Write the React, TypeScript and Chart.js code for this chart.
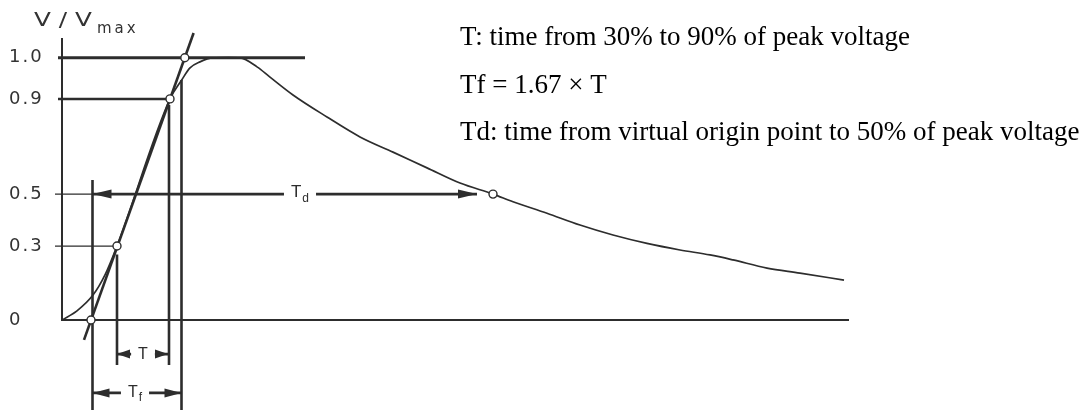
import React, { useEffect, useRef } from 'react';
import { Chart, registerables } from 'chart.js';

Chart.register(...registerables);

// ---- data (x in arbitrary time units, y as drawn height relative to the 1.0 level; the sketch is not to scale) ----
const levelLabels = ['0', '0.3', '0.5', '0.9', '1.0'];
const levelHeights = [0, 0.282, 0.48, 0.843, 1.0];

const waveX = [0, 1.5, 3.1, 4.3, 5.5, 10.8, 11.97, 12.8, 13.8, 15.1, 16.6, 17.8, 19.5, 20.8, 23.1, 26.5, 29.8, 33.1, 36.5, 39.8, 43.1, 45.1, 48.5, 51.8, 55.1, 58.5, 61.8, 64.8, 67.1, 70.5, 73.8, 78.2];
const waveY = [0, 0.035, 0.095, 0.172, 0.282, 0.843, 0.915, 0.961, 0.984, 0.999, 1.0, 0.999, 0.965, 0.926, 0.858, 0.774, 0.698, 0.64, 0.58, 0.522, 0.48, 0.451, 0.407, 0.362, 0.324, 0.292, 0.267, 0.248, 0.229, 0.198, 0.179, 0.152];

const tangentX = [2.2, 13.16];
const tangentY = [-0.076, 1.094];

const markerX = [2.9, 5.5, 10.8, 12.28, 43.1];
const markerY = [0, 0.282, 0.843, 1.0, 0.48];

const heavyGuideY = [1.0, 0.843];
const heavyGuideFrom = [-0.4, -0.4];
const heavyGuideTo = [24.3, 10.8];

const lightGuideY = [0.48, 0.282];
const lightGuideFrom = [-0.7, -0.7];
const lightGuideTo = [3.05, 5.5];

const vertX = [3.05, 5.5, 10.7, 11.95];
const vertTop = [0.534, 0.25, 0.82, 0.915];
const vertBottom = [-0.343, -0.172, -0.172, -0.343];

const dimLabels = ['T', 'T', 'T'];
const dimSubs = ['', 'f', 'd'];
const dimY = [-0.13, -0.278, 0.48];
const dimFrom = [5.5, 3.05, 3.05];
const dimTo = [10.6, 11.95, 41.5];
const dimLabelAt = [8.1, 7.3, 23.8];

const notes = [
  'T: time from 30% to 90% of peak voltage',
  'Tf = 1.67 × T',
  'Td: time from virtual origin point to 50% of peak voltage',
];

const X_MAX = 78.6;
const Y_MAX = 1.0713;

export default function App() {
  const ref = useRef<HTMLCanvasElement>(null);

  useEffect(() => {
    const canvas = ref.current;
    if (!canvas) return;
    const ink = '#2d2d2d';
    const labelInk = '#333333';

    const seg = (xs: number[], ys: number[], width: number, extra: any = {}) => ({
      data: xs.map((x, i) => ({ x, y: ys[i] })),
      borderColor: ink,
      borderWidth: width,
      pointRadius: 0,
      fill: false,
      clip: false,
      tension: 0,
      borderCapStyle: 'butt',
      ...extra,
    });

    const datasets: any[] = [];
    datasets.push({
      data: markerX.map((x, i) => ({ x, y: markerY[i] })),
      showLine: false,
      pointRadius: 4,
      pointBackgroundColor: '#ffffff',
      pointBorderColor: ink,
      pointBorderWidth: 1.4,
      clip: false,
    });
    datasets.push(seg(waveX, waveY, 1.7, { cubicInterpolationMode: 'monotone' }));
    datasets.push(seg(tangentX, tangentY, 2.6));
    heavyGuideY.forEach((y, i) => datasets.push(seg([heavyGuideFrom[i], heavyGuideTo[i]], [y, y], i === 0 ? 3 : 2.5)));
    lightGuideY.forEach((y, i) => datasets.push(seg([lightGuideFrom[i], lightGuideTo[i]], [y, y], 1.2)));
    vertX.forEach((x, i) => datasets.push(seg([x, x], [vertTop[i], vertBottom[i]], 2.6)));

    const annotate = {
      id: 'annotate',
      beforeDraw(chart: any) {
        const ctx = chart.ctx;
        ctx.save();
        ctx.fillStyle = '#ffffff';
        ctx.fillRect(0, 0, chart.width, chart.height);
        ctx.restore();
        ctx.letterSpacing = '2px';
      },
      beforeDatasetsDraw(chart: any) {
        chart.ctx.letterSpacing = '0px';
      },
      afterDatasetsDraw(chart: any) {
        const ctx = chart.ctx;
        const xs = chart.scales.x;
        const ys = chart.scales.y;
        ctx.save();
        ctx.letterSpacing = '0px';
        ctx.fillStyle = ink;
        ctx.strokeStyle = ink;
        const heads = [13, 17, 19];
        dimFrom.forEach((x0, i) => {
          const p0 = xs.getPixelForValue(x0);
          const p1 = xs.getPixelForValue(dimTo[i]);
          const py = ys.getPixelForValue(dimY[i]);
          const pc = xs.getPixelForValue(dimLabelAt[i]);
          const mainSize = i === 2 ? 17 : 16;
          ctx.font = `${mainSize}px "Liberation Sans"`;
          const wMain = ctx.measureText(dimLabels[i]).width;
          ctx.font = '12px "Liberation Sans"';
          const wSub = dimSubs[i] ? ctx.measureText(dimSubs[i]).width + 1 : 0;
          const w = wMain + wSub;
          const left = pc - w / 2;
          const right = pc + w / 2;
          ctx.lineWidth = 2.6;
          ctx.beginPath();
          ctx.moveTo(p0, py);
          ctx.lineTo(left - 7, py);
          ctx.moveTo(right + 7, py);
          ctx.lineTo(p1, py);
          ctx.stroke();
          const L = heads[i];
          const H = 4.5;
          ctx.beginPath();
          ctx.moveTo(p0, py);
          ctx.lineTo(p0 + L, py - H);
          ctx.lineTo(p0 + L, py + H);
          ctx.closePath();
          ctx.fill();
          ctx.beginPath();
          ctx.moveTo(p1, py);
          ctx.lineTo(p1 - L, py - H);
          ctx.lineTo(p1 - L, py + H);
          ctx.closePath();
          ctx.fill();
          ctx.textBaseline = 'middle';
          ctx.textAlign = 'left';
          ctx.font = `${mainSize}px "Liberation Sans"`;
          ctx.fillText(dimLabels[i], left, py - (i === 2 ? 2 : 0));
          if (dimSubs[i]) {
            ctx.font = '12px "Liberation Sans"';
            ctx.fillText(dimSubs[i], left + wMain + 1, py + 5);
          }
        });

        // axis title V / Vmax
        ctx.fillStyle = labelInk;
        ctx.textBaseline = 'alphabetic';
        ctx.textAlign = 'left';
        const ax = chart.chartArea.left;
        ctx.save();
        ctx.translate(ax - 28, 26);
        ctx.scale(1.3, 1);
        ctx.font = '19px "DejaVu Sans"';
        ctx.fillText('V / V', 0, 0);
        ctx.restore();
        ctx.font = '15px "DejaVu Sans"';
        ctx.letterSpacing = '3px';
        ctx.fillText('max', ax + 35, 33);
        ctx.letterSpacing = '0px';

        // notes
        ctx.fillStyle = '#000000';
        ctx.font = '27px "Liberation Serif"';
        const baselines = [45, 93, 140];
        notes.forEach((t, i) => ctx.fillText(t, 460, baselines[i]));
        ctx.restore();
      },
    };

    const chart = new Chart(canvas, {
      type: 'line',
      data: { datasets },
      options: {
        animation: false,
        responsive: false,
        events: [],
        layout: { padding: { left: 9, top: 39, right: 237, bottom: 90 } },
        plugins: { legend: { display: false }, tooltip: { enabled: false } },
        scales: {
          x: {
            type: 'linear',
            min: 0,
            max: X_MAX,
            grid: { display: false, drawTicks: false },
            ticks: { display: false },
            border: { display: true, color: ink, width: 2 },
            afterFit: (s: any) => { s.height = 0; },
          },
          y: {
            type: 'linear',
            min: 0,
            max: Y_MAX,
            grid: { display: false, drawTicks: false },
            border: { display: true, color: ink, width: 2 },
            afterBuildTicks: (s: any) => { s.ticks = levelHeights.map((v) => ({ value: v })); },
            afterFit: (s: any) => { s.width = 53; },
            ticks: {
              autoSkip: false,
              crossAlign: 'far',
              color: labelInk,
              font: { family: '"DejaVu Sans"', size: 18 },
              callback: (_v: any, i: number) => levelLabels[i],
            },
          },
        },
      } as any,
      plugins: [annotate as any],
    });

    return () => chart.destroy();
  }, []);

  return (
    <div style={{ position: 'fixed', left: 0, top: 0, width: 1085, height: 410, background: '#fff' }}>
      <canvas ref={ref} width={1085} height={410} />
    </div>
  );
}
